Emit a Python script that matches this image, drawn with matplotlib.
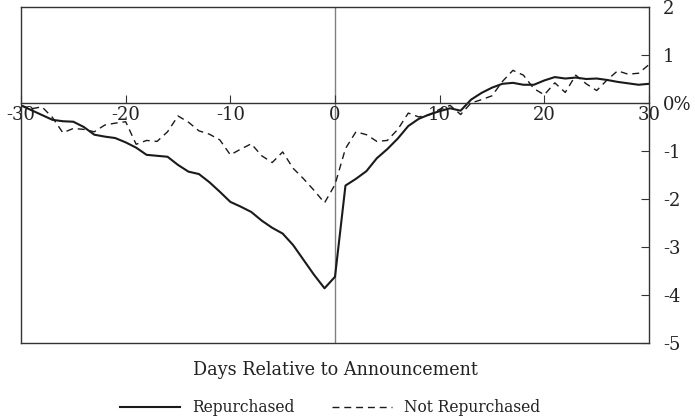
import numpy as np
import matplotlib
matplotlib.use('Agg')
import matplotlib.pyplot as plt

plt.rcParams['font.family'] = ['DejaVu Serif']

# days relative to announcement
days = np.arange(-30, 31)

# cumulative abnormal returns (%)
repurchased = [-0.05, -0.15, -0.25, -0.35, -0.38, -0.39, -0.50, -0.66, -0.70, -0.73,
               -0.82, -0.93, -1.08, -1.10, -1.12, -1.29, -1.43, -1.48, -1.65, -1.85,
               -2.06, -2.16, -2.27, -2.45, -2.60, -2.72, -2.96, -3.27, -3.58, -3.86,
               -3.62, -1.72, -1.58, -1.42, -1.15, -0.96, -0.74, -0.48, -0.33, -0.24,
               -0.17, -0.11, -0.16, 0.07, 0.21, 0.32, 0.40, 0.42, 0.38, 0.38,
               0.47, 0.54, 0.51, 0.53, 0.50, 0.51, 0.48, 0.44, 0.41, 0.38, 0.40]
not_repurchased = [-0.05, -0.12, -0.08, -0.30, -0.62, -0.53, -0.55, -0.60, -0.46, -0.42,
                   -0.39, -0.86, -0.78, -0.80, -0.60, -0.27, -0.40, -0.58, -0.65, -0.77,
                   -1.08, -0.96, -0.85, -1.10, -1.24, -1.02, -1.36, -1.58, -1.82, -2.08,
                   -1.70, -0.95, -0.60, -0.66, -0.80, -0.78, -0.55, -0.21, -0.29, -0.25,
                   -0.13, -0.05, -0.24, 0.00, 0.07, 0.15, 0.45, 0.68, 0.58, 0.30,
                   0.17, 0.42, 0.22, 0.58, 0.40, 0.26, 0.48, 0.67, 0.60, 0.62, 0.80]

x_ticks = [-30, -20, -10, 0, 10, 20, 30]
y_ticks = [2, 1, 0, -1, -2, -3, -4, -5]
y_labels = ['2', '1', '0%', '-1', '-2', '-3', '-4', '-5']

fig = plt.figure(figsize=(6.95, 4.18), dpi=100)
ax = fig.add_axes([21/695, 1-343/418, (649-21)/695, (343-7)/418])

ax.plot(days, repurchased, color='#1a1a1a', lw=1.5, label='Repurchased')
ax.plot(days, not_repurchased, color='#1a1a1a', lw=1.0, dashes=(5, 3.5), label='Not Repurchased')

ax.axvline(0, color='#808080', lw=1.0, zorder=0)

ax.set_xlim(-30, 30)
ax.set_ylim(-5, 2)

# x axis sits on the zero line, box still closed at the bottom
ax.spines['bottom'].set_position(('data', 0))
ax.plot([0, 1], [0, 0], transform=ax.transAxes, color='#333333', lw=1.0, clip_on=False)
for s in ['top', 'left', 'right', 'bottom']:
    ax.spines[s].set_color('#333333')
    ax.spines[s].set_linewidth(1.0)

ax.set_xticks(x_ticks)
ax.set_xticklabels([str(t) for t in x_ticks])
ax.tick_params(axis='x', direction='in', length=6, pad=2, labelsize=13,
               color='#333333', labelcolor='#222222')

ax.yaxis.tick_right()
ax.set_yticks(y_ticks)
ax.set_yticklabels(y_labels)
ax.tick_params(axis='y', direction='in', length=6, pad=10, labelsize=13,
               color='#333333', labelcolor='#222222')

fig.text(335/695, 1-370/418, 'Days Relative to Announcement', ha='center', va='center',
         fontsize=12.7, color='#222222')

fig.legend(loc='center', bbox_to_anchor=(330/695, 1-408/418), ncol=2, frameon=False,
           fontsize=11.2, handlelength=3.85, columnspacing=2.4, handletextpad=0.77,
           labelcolor='#222222')

fig.savefig('out.png', dpi=100)
